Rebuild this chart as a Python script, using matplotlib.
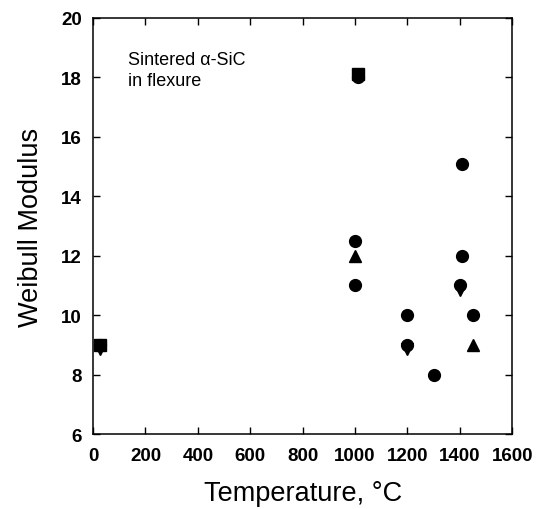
import matplotlib
matplotlib.use("Agg")
import matplotlib.pyplot as plt

plt.rcParams['font.family'] = ['Liberation Sans', 'DejaVu Sans']

# Weibull modulus of sintered alpha-SiC vs temperature
circle_T = [25, 1010, 1000, 1000, 1200, 1200, 1300, 1410, 1410, 1400, 1450]
circle_m = [9.0, 18.0, 12.5, 11.0, 10.0, 9.0, 8.0, 15.1, 12.0, 11.0, 10.0]
tri_up_T = [1000, 1450]
tri_up_m = [12.0, 9.0]
tri_down_T = [25, 1200, 1400]
tri_down_m = [8.85, 8.85, 10.85]
square_T = [25, 1010]
square_m = [9.0, 18.1]

xticks = [0, 200, 400, 600, 800, 1000, 1200, 1400, 1600]
yticks = [6, 8, 10, 12, 14, 16, 18, 20]

fig = plt.figure(figsize=(5.38, 5.10), dpi=100)
ax = fig.add_axes([0.173, 0.147, 0.779, 0.816])

ax.plot(square_T, square_m, 's', color='black', markersize=8, clip_on=False)
ax.plot(tri_down_T, tri_down_m, 'v', color='black', markersize=9, clip_on=False)
ax.plot(tri_up_T, tri_up_m, '^', color='black', markersize=8, clip_on=False)
ax.plot(circle_T, circle_m, 'o', color='black', markersize=8.5, clip_on=False)

ax.set_xlim(0, 1600)
ax.set_ylim(6, 20)
ax.set_xticks(xticks)
ax.set_yticks(yticks)
ax.tick_params(direction='in', length=5, width=1, top=True, right=True,
               labelsize=13.5)
ax.tick_params(axis='x', pad=9)
ax.tick_params(axis='y', pad=8)
for lab in ax.get_xticklabels() + ax.get_yticklabels():
    lab.set_fontweight('bold')
for s in ax.spines.values():
    s.set_linewidth(1.1)

ax.set_xlabel('Temperature, °C', fontsize=19.5, labelpad=12)
ax.set_ylabel('Weibull Modulus', fontsize=19.5, labelpad=12)

ax.text(0.083, 0.92, 'Sintered α-SiC\nin flexure', transform=ax.transAxes,
        fontsize=13, va='top', ha='left', linespacing=1.3)

fig.savefig('out.png', dpi=100)
